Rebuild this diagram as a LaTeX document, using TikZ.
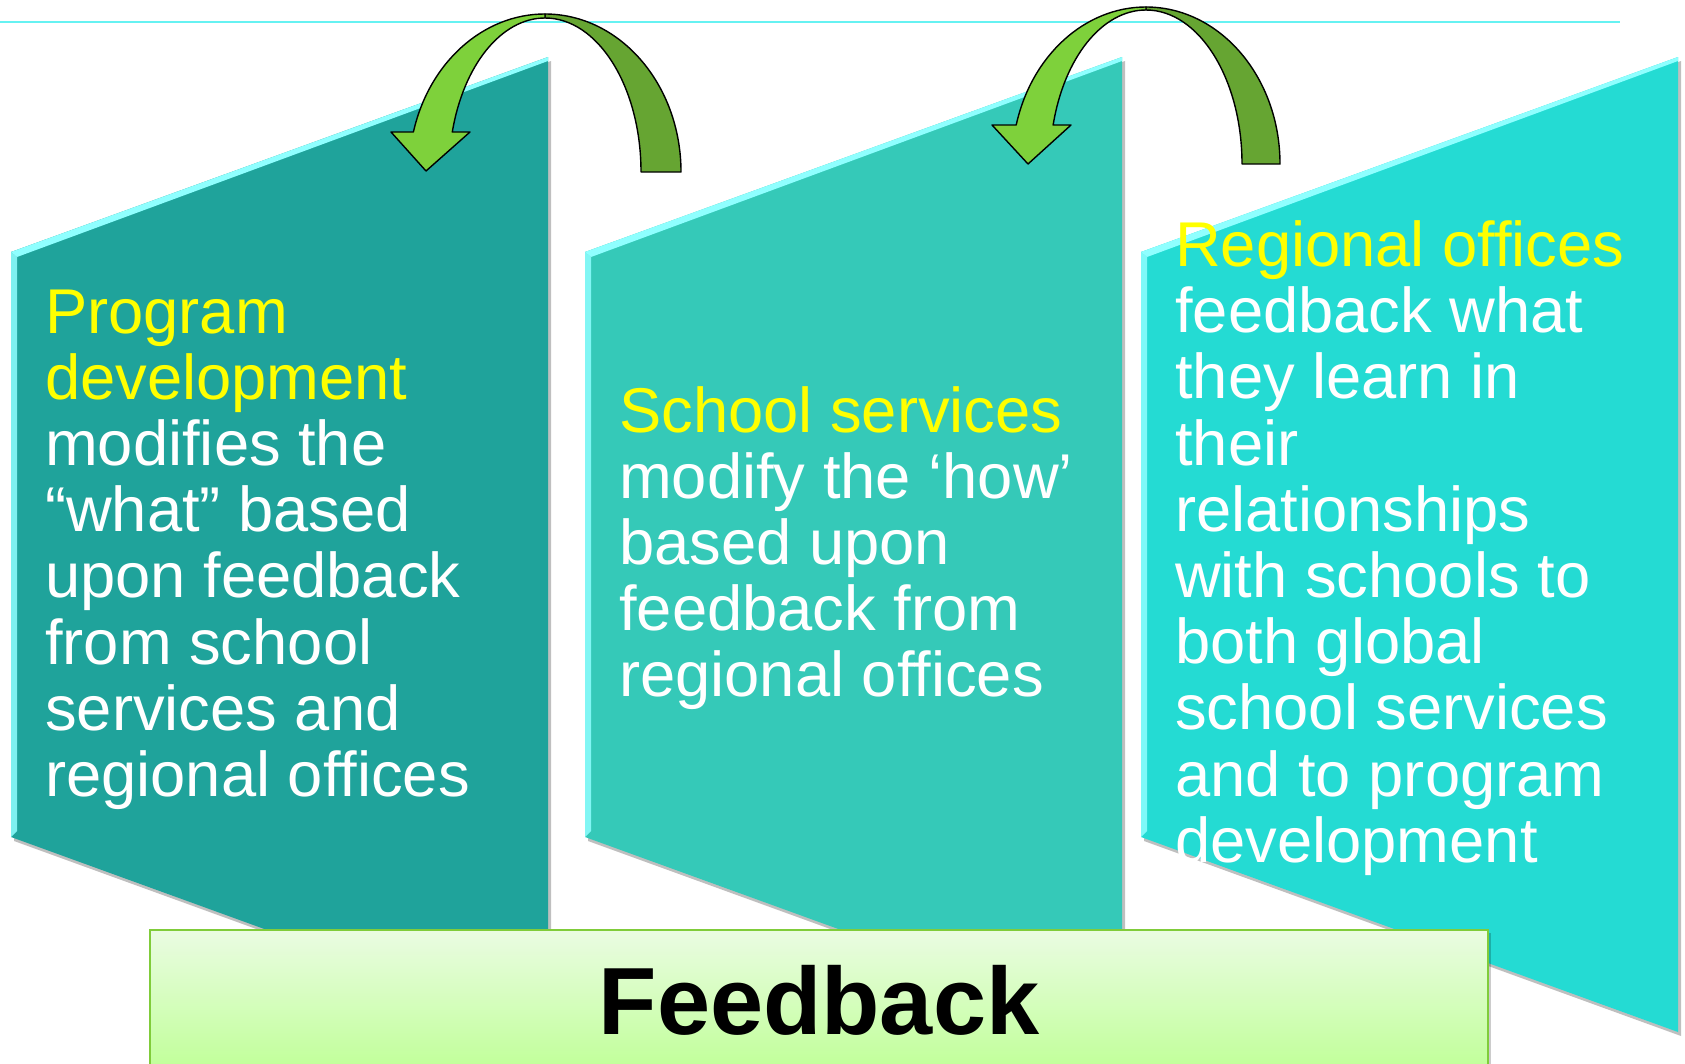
\documentclass[tikz,border=0pt]{standalone}
\usepackage{fontspec}
\setmainfont{Liberation Sans}
\definecolor{pone}{HTML}{1FA39B}
\definecolor{ptwo}{HTML}{35C9B8}
\definecolor{pthree}{HTML}{24DBD3}
\definecolor{bevel}{HTML}{8FFFFF}
\definecolor{toplinec}{HTML}{66F2F2}
\definecolor{arrlight}{HTML}{7ED13B}
\definecolor{arrdark}{HTML}{66A532}
\definecolor{fbtop}{HTML}{EAFCE2}
\definecolor{fbbot}{HTML}{BFFF96}
\definecolor{fbborder}{HTML}{80CC3A}
\definecolor{txtyellow}{HTML}{FFFF00}
\tikzset{
  panelshadow/.style={fill=black, opacity=0.25},
  bevelstrip/.style={fill=bevel},
  leftbevel/.style={fill=bevel, opacity=0.85},
  bandlight/.style={fill=arrlight, draw=black, line width=1.4pt, line join=round},
  banddark/.style={fill=arrdark, draw=black, line width=1.4pt, line join=round},
  paneltext/.style={anchor=base west, inner sep=0pt, text=white, font=\fontsize{63.3}{66.2}\selectfont},
  fbtext/.style={anchor=base, inner sep=0pt, text=black, font=\fontsize{95.5}{100}\selectfont\bfseries},
}
\newcommand\panelpath[1]{(#1,252) -- ({#1+537},57) -- ({#1+537},1032) -- (#1,837) -- cycle}
\begin{document}
\begin{tikzpicture}[x=1pt,y=1pt,yscale=-1]
\useasboundingbox (0,0) rectangle (1685,1063);
% top rule
\draw[toplinec, line width=2pt] (0,22) -- (1620,22);
% panel shadows
\foreach \px in {11,585,1141}{
  \fill[panelshadow] ([shift={(3,4)}]\px,252) -- ([shift={(3,4)}]{\px+537},57) -- ([shift={(3,4)}]{\px+537},1032) -- ([shift={(3,4)}]\px,837) -- cycle;
}
% panels
\fill[pone] \panelpath{11};
\fill[ptwo] \panelpath{585};
\fill[pthree] \panelpath{1141};
% bevels
\foreach \px in {11,585,1141}{
  \fill[bevelstrip] (\px,252) -- ({\px+537},57) -- ({\px+537},61) -- ({\px+6},257) -- cycle;
  \fill[leftbevel] (\px,252) -- ({\px+6},257) -- ({\px+6},831) -- (\px,837) -- cycle;
}
% curved arrow 1
\draw[banddark] (545,14) arc[start angle=-90, end angle=0, x radius=136pt, y radius=158pt]
  -- (641,172) arc[start angle=0, end angle=-90, x radius=96pt, y radius=154pt] -- cycle;
\draw[bandlight] (413.4,132) arc[start angle=-165.34, end angle=-90, x radius=136pt, y radius=158pt]
  -- (545,18) arc[start angle=-90, end angle=-164.94, x radius=96pt, y radius=154pt]
  -- (470,132) -- (426,171) -- (391,132) -- cycle;
% curved arrow 2
\draw[banddark] (1146,7) arc[start angle=-90, end angle=0, x radius=134pt, y radius=157pt]
  -- (1242,164) arc[start angle=0, end angle=-90, x radius=96pt, y radius=154pt] -- cycle;
\draw[bandlight] (1016.2,125) arc[start angle=-165.62, end angle=-90, x radius=134pt, y radius=157pt]
  -- (1146,10) arc[start angle=-90, end angle=-165.33, x radius=96pt, y radius=154pt]
  -- (1071,125) -- (1028,164) -- (992,125) -- cycle;
% texts
\node[paneltext] (t1) at (45,333) {\vtop{%
  \hbox{\color{txtyellow}Program}\hbox{\color{txtyellow}development}%
  \hbox{modifies the}\hbox{“what” based}\hbox{upon feedback}%
  \hbox{from school}\hbox{services and}\hbox{regional offices}}};
\node[paneltext] (t2) at (619,432) {\vtop{%
  \hbox{\color{txtyellow}School services}%
  \hbox{modify the ‘how’}\hbox{based upon}\hbox{feedback from}\hbox{regional offices}}};
\node[paneltext] (t3) at (1175,266.5) {\vtop{%
  \hbox{\color{txtyellow}Regional offices}%
  \hbox{feedback what}\hbox{they learn in}\hbox{their}\hbox{relationships}%
  \hbox{with schools to}\hbox{both global}\hbox{school services}%
  \hbox{and to program}\hbox{development}}};
% feedback box
\fill[black, opacity=0.2] (153,933) rectangle (1491,1078);
\path[draw=fbborder, line width=2pt, top color=fbtop, bottom color=fbbot] (150,930) rectangle (1488,1075);
\node[fbtext] (fb) at (819,1034) {Feedback};
\end{tikzpicture}
\end{document}
